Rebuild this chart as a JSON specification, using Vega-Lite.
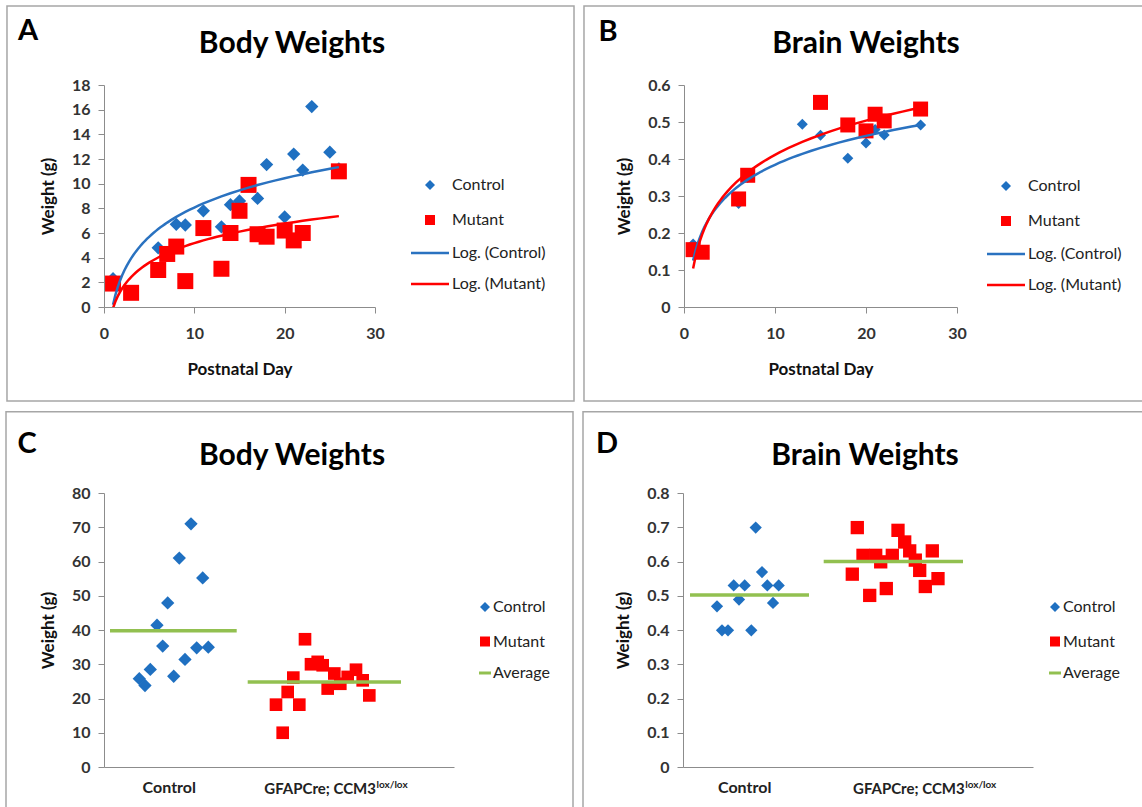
{
  "$schema": "https://vega.github.io/schema/vega-lite/v6.json",
  "background": "white",
  "padding": {"left": 5, "top": 5, "right": 2, "bottom": 2},
  "config": {
    "font": "Lato",
    "view": {"stroke": null},
    "axis": {"domainColor": "#8C8C8C", "tickColor": "#8C8C8C", "tickSize": 6, "grid": false, "labelFont": "Lato", "labelFontSize": 16, "labelFontWeight": "bold", "labelColor": "#333333", "titleFont": "Lato", "titleFontSize": 17, "titleFontWeight": "bold", "titleColor": "#111111", "labelPadding": 8, "labelFlush": false, "labelOverlap": false},
    "axisX": {"labelPadding": 12, "titlePadding": 20},
    "axisY": {"titlePadding": 14},
    "legend": {"title": null, "labelFont": "Lato", "labelFontSize": 16, "labelColor": "#222222", "symbolSize": 100, "padding": 0, "symbolOpacity": 1}
  },
  "datasets": {
    "a": [
      {"day": 1, "weight": 2.3, "series": "Control", "fit": "Log. (Control)"},
      {"day": 6, "weight": 4.8, "series": "Control", "fit": "Log. (Control)"},
      {"day": 8, "weight": 6.7, "series": "Control", "fit": "Log. (Control)"},
      {"day": 9, "weight": 6.65, "series": "Control", "fit": "Log. (Control)"},
      {"day": 11, "weight": 7.8, "series": "Control", "fit": "Log. (Control)"},
      {"day": 13, "weight": 6.5, "series": "Control", "fit": "Log. (Control)"},
      {"day": 14, "weight": 8.3, "series": "Control", "fit": "Log. (Control)"},
      {"day": 15, "weight": 8.6, "series": "Control", "fit": "Log. (Control)"},
      {"day": 17, "weight": 8.8, "series": "Control", "fit": "Log. (Control)"},
      {"day": 18, "weight": 11.55, "series": "Control", "fit": "Log. (Control)"},
      {"day": 20, "weight": 7.3, "series": "Control", "fit": "Log. (Control)"},
      {"day": 21, "weight": 12.4, "series": "Control", "fit": "Log. (Control)"},
      {"day": 22, "weight": 11.1, "series": "Control", "fit": "Log. (Control)"},
      {"day": 23, "weight": 16.25, "series": "Control", "fit": "Log. (Control)"},
      {"day": 25, "weight": 12.55, "series": "Control", "fit": "Log. (Control)"},
      {"day": 26, "weight": 11.2, "series": "Control", "fit": "Log. (Control)"},
      {"day": 1, "weight": 1.9, "series": "Mutant", "fit": "Log. (Mutant)"},
      {"day": 3, "weight": 1.15, "series": "Mutant", "fit": "Log. (Mutant)"},
      {"day": 6, "weight": 3.0, "series": "Mutant", "fit": "Log. (Mutant)"},
      {"day": 7, "weight": 4.3, "series": "Mutant", "fit": "Log. (Mutant)"},
      {"day": 8, "weight": 4.9, "series": "Mutant", "fit": "Log. (Mutant)"},
      {"day": 9, "weight": 2.1, "series": "Mutant", "fit": "Log. (Mutant)"},
      {"day": 11, "weight": 6.4, "series": "Mutant", "fit": "Log. (Mutant)"},
      {"day": 13, "weight": 3.1, "series": "Mutant", "fit": "Log. (Mutant)"},
      {"day": 14, "weight": 6.0, "series": "Mutant", "fit": "Log. (Mutant)"},
      {"day": 15, "weight": 7.8, "series": "Mutant", "fit": "Log. (Mutant)"},
      {"day": 16, "weight": 9.9, "series": "Mutant", "fit": "Log. (Mutant)"},
      {"day": 17, "weight": 5.9, "series": "Mutant", "fit": "Log. (Mutant)"},
      {"day": 18, "weight": 5.7, "series": "Mutant", "fit": "Log. (Mutant)"},
      {"day": 20, "weight": 6.2, "series": "Mutant", "fit": "Log. (Mutant)"},
      {"day": 21, "weight": 5.4, "series": "Mutant", "fit": "Log. (Mutant)"},
      {"day": 22, "weight": 6.0, "series": "Mutant", "fit": "Log. (Mutant)"},
      {"day": 26, "weight": 11.0, "series": "Mutant", "fit": "Log. (Mutant)"}
    ],
    "b": [
      {"day": 1, "weight": 0.17, "series": "Control", "fit": "Log. (Control)"},
      {"day": 2, "weight": 0.15, "series": "Control", "fit": "Log. (Control)"},
      {"day": 6, "weight": 0.28, "series": "Control", "fit": "Log. (Control)"},
      {"day": 7, "weight": 0.35, "series": "Control", "fit": "Log. (Control)"},
      {"day": 13, "weight": 0.494, "series": "Control", "fit": "Log. (Control)"},
      {"day": 15, "weight": 0.464, "series": "Control", "fit": "Log. (Control)"},
      {"day": 18, "weight": 0.402, "series": "Control", "fit": "Log. (Control)"},
      {"day": 20, "weight": 0.443, "series": "Control", "fit": "Log. (Control)"},
      {"day": 21, "weight": 0.48, "series": "Control", "fit": "Log. (Control)"},
      {"day": 22, "weight": 0.465, "series": "Control", "fit": "Log. (Control)"},
      {"day": 26, "weight": 0.492, "series": "Control", "fit": "Log. (Control)"},
      {"day": 1, "weight": 0.155, "series": "Mutant", "fit": "Log. (Mutant)"},
      {"day": 2, "weight": 0.148, "series": "Mutant", "fit": "Log. (Mutant)"},
      {"day": 6, "weight": 0.292, "series": "Mutant", "fit": "Log. (Mutant)"},
      {"day": 7, "weight": 0.356, "series": "Mutant", "fit": "Log. (Mutant)"},
      {"day": 15, "weight": 0.553, "series": "Mutant", "fit": "Log. (Mutant)"},
      {"day": 18, "weight": 0.492, "series": "Mutant", "fit": "Log. (Mutant)"},
      {"day": 20, "weight": 0.476, "series": "Mutant", "fit": "Log. (Mutant)"},
      {"day": 21, "weight": 0.521, "series": "Mutant", "fit": "Log. (Mutant)"},
      {"day": 22, "weight": 0.503, "series": "Mutant", "fit": "Log. (Mutant)"},
      {"day": 26, "weight": 0.535, "series": "Mutant", "fit": "Log. (Mutant)"}
    ],
    "c": [
      {"pos": 3.53, "weight": 25.8, "series": "Control"},
      {"pos": 4.1, "weight": 23.8, "series": "Control"},
      {"pos": 4.63, "weight": 28.5, "series": "Control"},
      {"pos": 5.3, "weight": 41.4, "series": "Control"},
      {"pos": 5.87, "weight": 35.3, "series": "Control"},
      {"pos": 6.37, "weight": 47.9, "series": "Control"},
      {"pos": 6.97, "weight": 26.5, "series": "Control"},
      {"pos": 7.53, "weight": 61.0, "series": "Control"},
      {"pos": 8.1, "weight": 31.4, "series": "Control"},
      {"pos": 8.7, "weight": 71.0, "series": "Control"},
      {"pos": 9.27, "weight": 34.8, "series": "Control"},
      {"pos": 9.87, "weight": 55.2, "series": "Control"},
      {"pos": 10.43, "weight": 35.0, "series": "Control"},
      {"pos": 17.2, "weight": 18.2, "series": "Mutant"},
      {"pos": 17.87, "weight": 10.0, "series": "Mutant"},
      {"pos": 18.37, "weight": 21.9, "series": "Mutant"},
      {"pos": 18.93, "weight": 26.1, "series": "Mutant"},
      {"pos": 19.53, "weight": 18.2, "series": "Mutant"},
      {"pos": 20.1, "weight": 37.3, "series": "Mutant"},
      {"pos": 20.7, "weight": 30.0, "series": "Mutant"},
      {"pos": 21.37, "weight": 30.7, "series": "Mutant"},
      {"pos": 21.87, "weight": 29.7, "series": "Mutant"},
      {"pos": 22.37, "weight": 22.9, "series": "Mutant"},
      {"pos": 23.03, "weight": 27.3, "series": "Mutant"},
      {"pos": 23.63, "weight": 24.3, "series": "Mutant"},
      {"pos": 24.37, "weight": 26.3, "series": "Mutant"},
      {"pos": 25.2, "weight": 28.4, "series": "Mutant"},
      {"pos": 25.87, "weight": 25.3, "series": "Mutant"},
      {"pos": 26.53, "weight": 20.9, "series": "Mutant"}
    ],
    "cavg": [
      {"pos": 0.6, "weight": 39.8, "series": "Average", "grp": "Control"},
      {"pos": 13.27, "weight": 39.8, "series": "Average", "grp": "Control"},
      {"pos": 14.37, "weight": 24.8, "series": "Average", "grp": "Mutant"},
      {"pos": 29.7, "weight": 24.8, "series": "Average", "grp": "Mutant"}
    ],
    "d": [
      {"pos": 3.4, "weight": 0.469, "series": "Control"},
      {"pos": 3.9, "weight": 0.399, "series": "Control"},
      {"pos": 4.5, "weight": 0.399, "series": "Control"},
      {"pos": 5.07, "weight": 0.53, "series": "Control"},
      {"pos": 5.6, "weight": 0.489, "series": "Control"},
      {"pos": 6.17, "weight": 0.53, "series": "Control"},
      {"pos": 6.83, "weight": 0.399, "series": "Control"},
      {"pos": 7.27, "weight": 0.699, "series": "Control"},
      {"pos": 7.9, "weight": 0.569, "series": "Control"},
      {"pos": 8.43, "weight": 0.53, "series": "Control"},
      {"pos": 9.0, "weight": 0.479, "series": "Control"},
      {"pos": 9.57, "weight": 0.53, "series": "Control"},
      {"pos": 16.93, "weight": 0.563, "series": "Mutant"},
      {"pos": 17.43, "weight": 0.699, "series": "Mutant"},
      {"pos": 18.0, "weight": 0.618, "series": "Mutant"},
      {"pos": 18.67, "weight": 0.501, "series": "Mutant"},
      {"pos": 19.27, "weight": 0.618, "series": "Mutant"},
      {"pos": 19.77, "weight": 0.599, "series": "Mutant"},
      {"pos": 20.33, "weight": 0.521, "series": "Mutant"},
      {"pos": 20.93, "weight": 0.618, "series": "Mutant"},
      {"pos": 21.5, "weight": 0.691, "series": "Mutant"},
      {"pos": 22.17, "weight": 0.657, "series": "Mutant"},
      {"pos": 22.67, "weight": 0.631, "series": "Mutant"},
      {"pos": 23.23, "weight": 0.604, "series": "Mutant"},
      {"pos": 23.67, "weight": 0.574, "series": "Mutant"},
      {"pos": 24.23, "weight": 0.527, "series": "Mutant"},
      {"pos": 24.93, "weight": 0.631, "series": "Mutant"},
      {"pos": 25.5, "weight": 0.55, "series": "Mutant"}
    ],
    "davg": [
      {"pos": 0.7, "weight": 0.502, "series": "Average", "grp": "Control"},
      {"pos": 12.6, "weight": 0.502, "series": "Average", "grp": "Control"},
      {"pos": 14.07, "weight": 0.6, "series": "Average", "grp": "Mutant"},
      {"pos": 28.0, "weight": 0.6, "series": "Average", "grp": "Mutant"}
    ]
  },
  "resolve": {"scale": {"color": "independent", "shape": "independent", "stroke": "independent"}, "legend": {"color": "independent", "shape": "independent", "stroke": "independent"}},
  "spacing": 8,
  "vconcat": [
    {
      "spacing": 8,
      "resolve": {"scale": {"color": "independent", "shape": "independent", "stroke": "independent"}, "legend": {"color": "independent", "shape": "independent", "stroke": "independent"}},
      "hconcat": [
        {
          "width": 271, "height": 222,
          "layer": [
            {"data": {"name": "a"}, "transform": [{"filter": "datum.series == 'Control'"}],
             "mark": {"type": "point", "filled": true, "opacity": 1, "size": 177, "strokeWidth": 0},
             "encoding": {
               "x": {"field": "day", "type": "quantitative", "scale": {"domain": [0, 30], "nice": false, "zero": false}, "axis": {"values": [0, 10, 20, 30], "tickCount": 4, "labelOverlap": false, "title": "Postnatal Day"}},
               "y": {"field": "weight", "type": "quantitative", "scale": {"domain": [0, 18], "nice": false}, "axis": {"values": [0, 2, 4, 6, 8, 10, 12, 14, 16, 18], "tickCount": 10, "labelOverlap": false, "title": "Weight (g)"}},
               "color": {"field": "series", "type": "nominal",
                 "scale": {"domain": ["Control", "Mutant", "Log. (Control)", "Log. (Mutant)"], "range": ["#1F70C1", "#FF0000", "#2A72C0", "#FF0000"]},
                 "legend": {"title": null, "orient": "none", "legendX": 318, "legendY": 92, "labelOffset": 14, "rowPadding": 15, "symbolStrokeWidth": 2.5}},
               "shape": {"field": "series", "type": "nominal",
                 "scale": {"domain": ["Control", "Mutant", "Log. (Control)", "Log. (Mutant)"], "range": ["diamond", "square", "M-3.8,0L3.8,0", "M-3.8,0L3.8,0"]}}}},
            {"data": {"name": "a"}, "transform": [{"filter": "datum.series == 'Mutant'"}],
             "mark": {"type": "point", "filled": true, "opacity": 1, "size": 256, "strokeWidth": 0},
             "encoding": {"x": {"field": "day", "type": "quantitative"}, "y": {"field": "weight", "type": "quantitative"}, "color": {"field": "series", "type": "nominal"}, "shape": {"field": "series", "type": "nominal"}}},
            {"data": {"name": "a"}, "transform": [{"regression": "weight", "on": "day", "method": "log", "groupby": ["fit"], "extent": [1, 26]}],
             "mark": {"type": "line", "strokeWidth": 2.5, "clip": true},
             "encoding": {"x": {"field": "day", "type": "quantitative"}, "y": {"field": "weight", "type": "quantitative"},
               "stroke": {"field": "fit", "type": "nominal", "scale": {"domain": ["Control", "Mutant", "Log. (Control)", "Log. (Mutant)"], "range": ["transparent", "transparent", "#2A72C0", "#FF0000"]}}}},
            {"data": {"values": [{}]}, "mark": {"type": "rect", "fill": null, "stroke": "#A6A6A6", "strokeWidth": 1.5},
             "encoding": {"x": {"datum": -10.74, "type": "quantitative"}, "x2": {"datum": 52.03}, "y": {"datum": 24.41, "type": "quantitative"}, "y2": {"datum": -7.62}}},
            {"data": {"values": [{}]}, "mark": {"type": "text", "text": "A", "fontSize": 29, "fontWeight": "bold", "align": "center", "baseline": "middle", "color": "#000000"},
             "encoding": {"x": {"datum": -8.41, "type": "quantitative"}, "y": {"datum": 22.38, "type": "quantitative"}}},
            {"data": {"values": [{}]}, "mark": {"type": "text", "text": "Body Weights", "fontSize": 30, "fontWeight": "bold", "align": "center", "baseline": "middle", "color": "#000000"},
             "encoding": {"x": {"datum": 20.81, "type": "quantitative"}, "y": {"datum": 21.32, "type": "quantitative"}}}
          ]
        },
        {
          "width": 273, "height": 222,
          "layer": [
            {"data": {"name": "b"}, "transform": [{"filter": "datum.series == 'Control'"}],
             "mark": {"type": "point", "filled": true, "opacity": 1, "size": 121, "strokeWidth": 0},
             "encoding": {
               "x": {"field": "day", "type": "quantitative", "scale": {"domain": [0, 30], "nice": false, "zero": false}, "axis": {"values": [0, 10, 20, 30], "tickCount": 4, "labelOverlap": false, "title": "Postnatal Day"}},
               "y": {"field": "weight", "type": "quantitative", "scale": {"domain": [0, 0.6], "nice": false}, "axis": {"values": [0, 0.1, 0.2, 0.3, 0.4, 0.5, 0.6], "tickCount": 7, "labelOverlap": false, "format": "~g", "title": "Weight (g)"}},
               "color": {"field": "series", "type": "nominal",
                 "scale": {"domain": ["Control", "Mutant", "Log. (Control)", "Log. (Mutant)"], "range": ["#1F70C1", "#FF0000", "#2A72C0", "#FF0000"]},
                 "legend": {"title": null, "orient": "none", "legendX": 314, "legendY": 93, "labelOffset": 14, "rowPadding": 15, "symbolStrokeWidth": 2.5}},
               "shape": {"field": "series", "type": "nominal",
                 "scale": {"domain": ["Control", "Mutant", "Log. (Control)", "Log. (Mutant)"], "range": ["diamond", "square", "M-3.8,0L3.8,0", "M-3.8,0L3.8,0"]}}}},
            {"data": {"name": "b"}, "transform": [{"filter": "datum.series == 'Mutant'"}],
             "mark": {"type": "point", "filled": true, "opacity": 1, "size": 225, "strokeWidth": 0},
             "encoding": {"x": {"field": "day", "type": "quantitative"}, "y": {"field": "weight", "type": "quantitative"}, "color": {"field": "series", "type": "nominal"}, "shape": {"field": "series", "type": "nominal"}}},
            {"data": {"name": "b"}, "transform": [{"regression": "weight", "on": "day", "method": "log", "groupby": ["fit"], "extent": [1, 26]}],
             "mark": {"type": "line", "strokeWidth": 2.5, "clip": true},
             "encoding": {"x": {"field": "day", "type": "quantitative"}, "y": {"field": "weight", "type": "quantitative"},
               "stroke": {"field": "fit", "type": "nominal", "scale": {"domain": ["Control", "Mutant", "Log. (Control)", "Log. (Mutant)"], "range": ["transparent", "transparent", "#2A72C0", "#FF0000"]}}}},
            {"data": {"values": [{}]}, "mark": {"type": "rect", "fill": null, "stroke": "#A6A6A6", "strokeWidth": 1.5},
             "encoding": {"x": {"datum": -10.99, "type": "quantitative"}, "x2": {"datum": 50.55}, "y": {"datum": 0.8135, "type": "quantitative"}, "y2": {"datum": -0.254}}},
            {"data": {"values": [{}]}, "mark": {"type": "text", "text": "B", "fontSize": 29, "fontWeight": "bold", "align": "center", "baseline": "middle", "color": "#000000"},
             "encoding": {"x": {"datum": -8.35, "type": "quantitative"}, "y": {"datum": 0.7432, "type": "quantitative"}}},
            {"data": {"values": [{}]}, "mark": {"type": "text", "text": "Brain Weights", "fontSize": 30, "fontWeight": "bold", "align": "center", "baseline": "middle", "color": "#000000"},
             "encoding": {"x": {"datum": 20.0, "type": "quantitative"}, "y": {"datum": 0.7108, "type": "quantitative"}}}
          ]
        }
      ]
    },
    {
      "spacing": 8,
      "resolve": {"scale": {"color": "independent", "shape": "independent", "stroke": "independent"}, "legend": {"color": "independent", "shape": "independent", "stroke": "independent"}},
      "hconcat": [
        {
          "width": 350, "height": 274,
          "layer": [
            {"data": {"name": "c"}, "transform": [{"filter": "datum.series == 'Control'"}],
             "mark": {"type": "point", "filled": true, "opacity": 1, "size": 177, "strokeWidth": 0},
             "encoding": {
               "x": {"field": "pos", "type": "quantitative", "scale": {"domain": [0, 35], "nice": false, "zero": false}, "axis": {"labels": false, "ticks": false, "title": null}},
               "y": {"field": "weight", "type": "quantitative", "scale": {"domain": [0, 80], "nice": false}, "axis": {"values": [0, 10, 20, 30, 40, 50, 60, 70, 80], "tickCount": 9, "labelOverlap": false, "title": "Weight (g)"}},
               "color": {"field": "series", "type": "nominal",
                 "scale": {"domain": ["Control", "Mutant", "Average"], "range": ["#1F70C1", "#FF0000", "#92C050"]},
                 "legend": {"title": null, "orient": "none", "legendX": 373, "legendY": 106, "labelOffset": 0, "rowPadding": 12.5, "symbolStrokeWidth": 3}},
               "shape": {"field": "series", "type": "nominal",
                 "scale": {"domain": ["Control", "Mutant", "Average"], "range": ["diamond", "square", "M-1.2,0L1.2,0"]}}}},
            {"data": {"name": "c"}, "transform": [{"filter": "datum.series == 'Mutant'"}],
             "mark": {"type": "point", "filled": true, "opacity": 1, "size": 160, "strokeWidth": 0},
             "encoding": {"x": {"field": "pos", "type": "quantitative"}, "y": {"field": "weight", "type": "quantitative"}, "color": {"field": "series", "type": "nominal"}, "shape": {"field": "series", "type": "nominal"}}},
            {"data": {"name": "cavg"},
             "mark": {"type": "line", "strokeWidth": 3.5},
             "encoding": {"x": {"field": "pos", "type": "quantitative"}, "y": {"field": "weight", "type": "quantitative"},
               "stroke": {"field": "series", "type": "nominal", "scale": {"domain": ["Control", "Mutant", "Average"], "range": ["transparent", "transparent", "#92C050"]}},
               "detail": {"field": "grp"}}},
            {"data": {"values": [{}]}, "mark": {"type": "rect", "fill": null, "stroke": "#A6A6A6", "strokeWidth": 1.5},
             "encoding": {"x": {"datum": -9.8, "type": "quantitative"}, "x2": {"datum": 46.9}, "y": {"datum": 103.74, "type": "quantitative"}, "y2": {"datum": -11.88}}},
            {"data": {"values": [{}]}, "mark": {"type": "text", "text": "C", "fontSize": 29, "fontWeight": "bold", "align": "center", "baseline": "middle", "color": "#000000"},
             "encoding": {"x": {"datum": -7.7, "type": "quantitative"}, "y": {"datum": 94.4, "type": "quantitative"}}},
            {"data": {"values": [{}]}, "mark": {"type": "text", "text": "Body Weights", "fontSize": 30, "fontWeight": "bold", "align": "center", "baseline": "middle", "color": "#000000"},
             "encoding": {"x": {"datum": 18.8, "type": "quantitative"}, "y": {"datum": 90.9, "type": "quantitative"}}},
            {"data": {"values": [{}]}, "mark": {"type": "text", "text": "Control", "fontSize": 16, "fontWeight": "bold", "align": "center", "baseline": "middle", "color": "#222222"},
             "encoding": {"x": {"datum": 6.53, "type": "quantitative"}, "y": {"datum": -6.04, "type": "quantitative"}}},
            {"data": {"values": [{}]}, "mark": {"type": "text", "text": "GFAPCre; CCM3", "fontSize": 15, "fontWeight": "bold", "align": "right", "baseline": "alphabetic", "color": "#222222"},
             "encoding": {"x": {"datum": 27.2, "type": "quantitative"}, "y": {"datum": -7.8, "type": "quantitative"}}},
            {"data": {"values": [{}]}, "mark": {"type": "text", "text": "lox/lox", "fontSize": 10, "fontWeight": "bold", "align": "left", "baseline": "alphabetic", "color": "#222222"},
             "encoding": {"x": {"datum": 27.25, "type": "quantitative"}, "y": {"datum": -6.19, "type": "quantitative"}}}
          ]
        },
        {
          "width": 350, "height": 274,
          "layer": [
            {"data": {"name": "d"}, "transform": [{"filter": "datum.series == 'Control'"}],
             "mark": {"type": "point", "filled": true, "opacity": 1, "size": 150, "strokeWidth": 0},
             "encoding": {
               "x": {"field": "pos", "type": "quantitative", "scale": {"domain": [0, 35], "nice": false, "zero": false}, "axis": {"labels": false, "ticks": false, "title": null}},
               "y": {"field": "weight", "type": "quantitative", "scale": {"domain": [0, 0.8], "nice": false}, "axis": {"values": [0, 0.1, 0.2, 0.3, 0.4, 0.5, 0.6, 0.7, 0.8], "tickCount": 9, "labelOverlap": false, "format": "~g", "title": "Weight (g)"}},
               "color": {"field": "series", "type": "nominal",
                 "scale": {"domain": ["Control", "Mutant", "Average"], "range": ["#1F70C1", "#FF0000", "#92C050"]},
                 "legend": {"title": null, "orient": "none", "legendX": 364, "legendY": 106, "labelOffset": 0, "rowPadding": 12.5, "symbolStrokeWidth": 3}},
               "shape": {"field": "series", "type": "nominal",
                 "scale": {"domain": ["Control", "Mutant", "Average"], "range": ["diamond", "square", "M-1.2,0L1.2,0"]}}}},
            {"data": {"name": "d"}, "transform": [{"filter": "datum.series == 'Mutant'"}],
             "mark": {"type": "point", "filled": true, "opacity": 1, "size": 177, "strokeWidth": 0},
             "encoding": {"x": {"field": "pos", "type": "quantitative"}, "y": {"field": "weight", "type": "quantitative"}, "color": {"field": "series", "type": "nominal"}, "shape": {"field": "series", "type": "nominal"}}},
            {"data": {"name": "davg"},
             "mark": {"type": "line", "strokeWidth": 3.5},
             "encoding": {"x": {"field": "pos", "type": "quantitative"}, "y": {"field": "weight", "type": "quantitative"},
               "stroke": {"field": "series", "type": "nominal", "scale": {"domain": ["Control", "Mutant", "Average"], "range": ["transparent", "transparent", "#92C050"]}},
               "detail": {"field": "grp"}}},
            {"data": {"values": [{}]}, "mark": {"type": "rect", "fill": null, "stroke": "#A6A6A6", "strokeWidth": 1.5},
             "encoding": {"x": {"datum": -10, "type": "quantitative"}, "x2": {"datum": 46}, "y": {"datum": 1.0374, "type": "quantitative"}, "y2": {"datum": -0.1188}}},
            {"data": {"values": [{}]}, "mark": {"type": "text", "text": "D", "fontSize": 29, "fontWeight": "bold", "align": "center", "baseline": "middle", "color": "#000000"},
             "encoding": {"x": {"datum": -7.6, "type": "quantitative"}, "y": {"datum": 0.944, "type": "quantitative"}}},
            {"data": {"values": [{}]}, "mark": {"type": "text", "text": "Brain Weights", "fontSize": 30, "fontWeight": "bold", "align": "center", "baseline": "middle", "color": "#000000"},
             "encoding": {"x": {"datum": 18.2, "type": "quantitative"}, "y": {"datum": 0.909, "type": "quantitative"}}},
            {"data": {"values": [{}]}, "mark": {"type": "text", "text": "Control", "fontSize": 16, "fontWeight": "bold", "align": "center", "baseline": "middle", "color": "#222222"},
             "encoding": {"x": {"datum": 6.17, "type": "quantitative"}, "y": {"datum": -0.0604, "type": "quantitative"}}},
            {"data": {"values": [{}]}, "mark": {"type": "text", "text": "GFAPCre; CCM3", "fontSize": 15, "fontWeight": "bold", "align": "right", "baseline": "alphabetic", "color": "#222222"},
             "encoding": {"x": {"datum": 28.17, "type": "quantitative"}, "y": {"datum": -0.078, "type": "quantitative"}}},
            {"data": {"values": [{}]}, "mark": {"type": "text", "text": "lox/lox", "fontSize": 10, "fontWeight": "bold", "align": "left", "baseline": "alphabetic", "color": "#222222"},
             "encoding": {"x": {"datum": 28.22, "type": "quantitative"}, "y": {"datum": -0.0619, "type": "quantitative"}}}
          ]
        }
      ]
    }
  ]
}
